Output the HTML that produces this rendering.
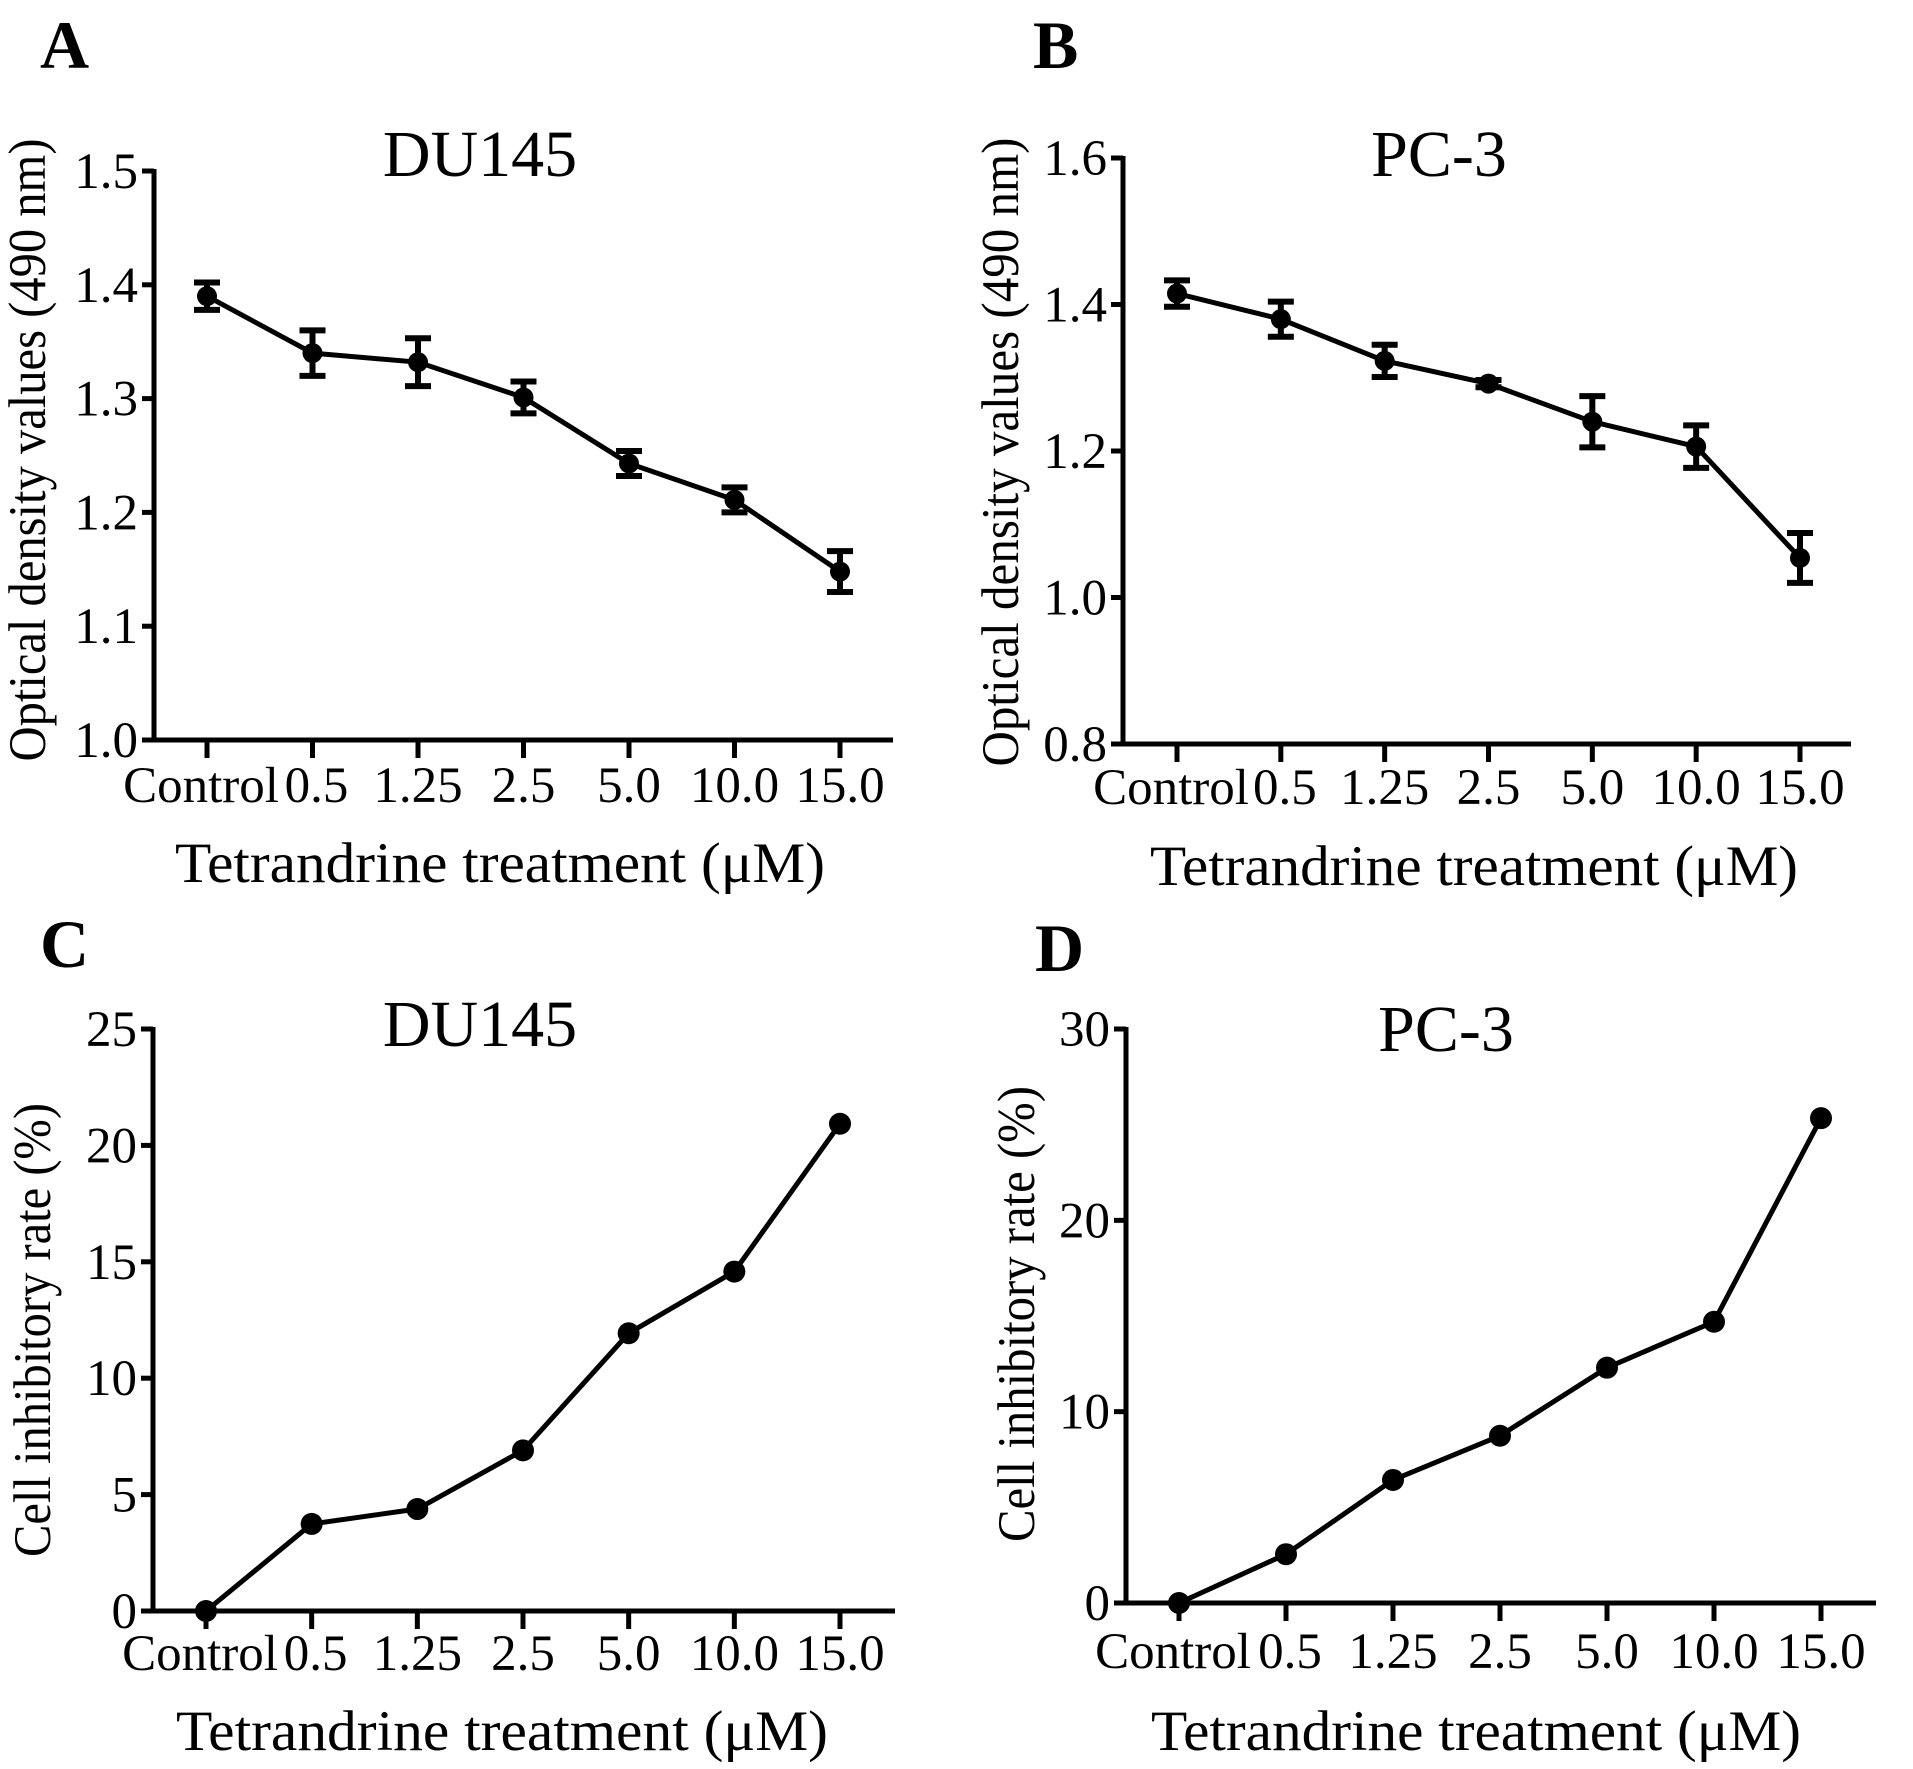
<!DOCTYPE html>
<html><head><meta charset="utf-8"><style>
html,body{margin:0;padding:0;background:#fff;}
svg{display:block;}
text{font-family:"Liberation Serif","Times New Roman",serif;fill:#000;}
</style></head><body>
<svg id="fig" width="1913" height="1769" viewBox="0 0 1913 1769"></svg>
<script>
const categories = ["Control","0.5","1.25","2.5","5.0","10.0","15.0"];
const valuesA = [1.390,1.340,1.332,1.301,1.243,1.211,1.148];
const errorsA = [0.012,0.020,0.021,0.014,0.011,0.011,0.018];
const ticksA = [1.0,1.1,1.2,1.3,1.4,1.5];
const tickLabelsA = ["1.0","1.1","1.2","1.3","1.4","1.5"];
const valuesB = [1.415,1.380,1.323,1.292,1.240,1.206,1.054];
const errorsB = [0.018,0.024,0.022,0.005,0.035,0.029,0.034];
const ticksB = [0.8,1.0,1.2,1.4,1.6];
const tickLabelsB = ["0.8","1.0","1.2","1.4","1.6"];
const valuesC = [0,3.74,4.38,6.9,11.93,14.58,20.93];
const ticksC = [0,5,10,15,20,25];
const tickLabelsC = ["0","5","10","15","20","25"];
const valuesD = [0,2.55,6.43,8.74,12.3,14.7,25.34];
const ticksD = [0,10,20,30];
const tickLabelsD = ["0","10","20","30"];
const labelShift = [-6,4,0,0,0,0,0];

const NS="http://www.w3.org/2000/svg";
const svg=document.getElementById('fig');
function mk(tag,attrs,parent){const e=document.createElementNS(NS,tag);for(const k in attrs)e.setAttribute(k,attrs[k]);(parent||svg).appendChild(e);return e;}

function panel(cfg){
  const g=mk('g',{});
  
  
  const yS=v=>cfg.y0+(v-cfg.vmin)/(cfg.vmax-cfg.vmin)*(cfg.y1-cfg.y0);
  const xS=i=>cfg.xt0+i*(cfg.xt1-cfg.xt0)/(categories.length-1);
  const L=mk('text',{x:cfg.lx,y:cfg.ly,'font-size':68,'font-weight':'bold'},g);L.textContent=cfg.id;
  
  
  const T=mk('text',{x:cfg.tx,y:cfg.ty,'font-size':66,'text-anchor':'middle'},g);T.textContent=cfg.title;
  
  
  const ya=mk('line',{x1:cfg.ax,y1:yS(cfg.vmax)-2,x2:cfg.ax,y2:yS(cfg.vmin)+2,stroke:'#000','stroke-width':5},g);
  
  
  const xa=mk('line',{x1:cfg.ax-12,y1:yS(cfg.vmin),x2:cfg.xr,y2:yS(cfg.vmin),stroke:'#000','stroke-width':5},g);
  
  
  cfg.ticks.forEach((t,i)=>{
    const y=yS(t);
    mk('line',{x1:cfg.ax-12,y1:y,x2:cfg.ax,y2:y,stroke:'#000','stroke-width':5},g);
    const tl=mk('text',{x:cfg.ax-16,y:y+17,'font-size':51,'text-anchor':'end'},g);tl.textContent=cfg.tickLabels[i];
    
    
  });
  categories.forEach((c,i)=>{
    const x=xS(i);
    mk('line',{x1:x,y1:yS(cfg.vmin),x2:x,y2:yS(cfg.vmin)+18,stroke:'#000','stroke-width':5},g);
    const tl=mk('text',{x:x+labelShift[i],y:cfg.xlb,'font-size':51,'text-anchor':'middle'},g);tl.textContent=c;
    
    
  });
  const xt=mk('text',{x:cfg.xtx,y:cfg.xty,'font-size':57,'text-anchor':'middle',textLength:cfg.xtl,lengthAdjust:'spacingAndGlyphs'},g);
  xt.textContent='Tetrandrine treatment (\u03bcM)';
  
  
  const yt=mk('text',{x:0,y:0,'font-size':53,'text-anchor':'middle',textLength:cfg.ytl,lengthAdjust:'spacingAndGlyphs',transform:`translate(${cfg.ytx},${cfg.yty}) rotate(-90)`},g);
  yt.textContent=cfg.ytitle;
  
  
  const pts=cfg.values.map((v,i)=>xS(i)+','+yS(v)).join(' ');
  const pl=mk('polyline',{points:pts,fill:'none',stroke:'#000','stroke-width':5,'stroke-linejoin':'round'},g);
  
  
  cfg.values.forEach((v,i)=>{
    const x=xS(i);
    if(cfg.errors){
      const e=cfg.errors[i];
      const eb=mk('path',{d:`M${x},${yS(v+e)}V${yS(v-e)}M${x-13},${yS(v+e)}H${x+13}M${x-13},${yS(v-e)}H${x+13}`,stroke:'#000','stroke-width':6,fill:'none'},g);
      
      
    }
    const c=mk('circle',{cx:x,cy:yS(v),r:cfg.r,fill:'#000'},g);
    
    
  });
}
panel({id:'A',title:'DU145',values:valuesA,errors:errorsA,ticks:ticksA,tickLabels:tickLabelsA,vmin:1.0,vmax:1.5,
  y0:740,y1:171,ax:154,xt0:207,xt1:840,xr:893,lx:40,ly:68,tx:480,ty:176,xlb:802,xtx:500,xty:882,xtl:650,
  ytx:45,yty:450,ytl:623,ytitle:'Optical density values (490 nm)',r:10});
panel({id:'B',title:'PC-3',values:valuesB,errors:errorsB,ticks:ticksB,tickLabels:tickLabelsB,vmin:0.8,vmax:1.6,
  y0:744,y1:158,ax:1123,xt0:1177,xt1:1800,xr:1851,lx:1033,ly:68,tx:1439,ty:176,xlb:804,xtx:1474,xty:885,xtl:648,
  ytx:1018,yty:452,ytl:629,ytitle:'Optical density values (490 nm)',r:10});
panel({id:'C',title:'DU145',values:valuesC,errors:null,ticks:ticksC,tickLabels:tickLabelsC,vmin:0,vmax:25,
  y0:1611,y1:1029,ax:153,xt0:206,xt1:840,xr:895,lx:40,ly:967,tx:480,ty:1046,xlb:1670,xtx:502,xty:1750,xtl:652,
  ytx:50,yty:1330,ytl:454,ytitle:'Cell inhibitory rate (%)',r:11});
panel({id:'D',title:'PC-3',values:valuesD,errors:null,ticks:ticksD,tickLabels:tickLabelsD,vmin:0,vmax:30,
  y0:1603,y1:1029,ax:1126,xt0:1179,xt1:1821,xr:1876,lx:1035,ly:971,tx:1446,ty:1051,xlb:1668,xtx:1476,xty:1750,xtl:650,
  ytx:1034,yty:1314,ytl:456,ytitle:'Cell inhibitory rate (%)',r:11});
</script>
</body></html>
